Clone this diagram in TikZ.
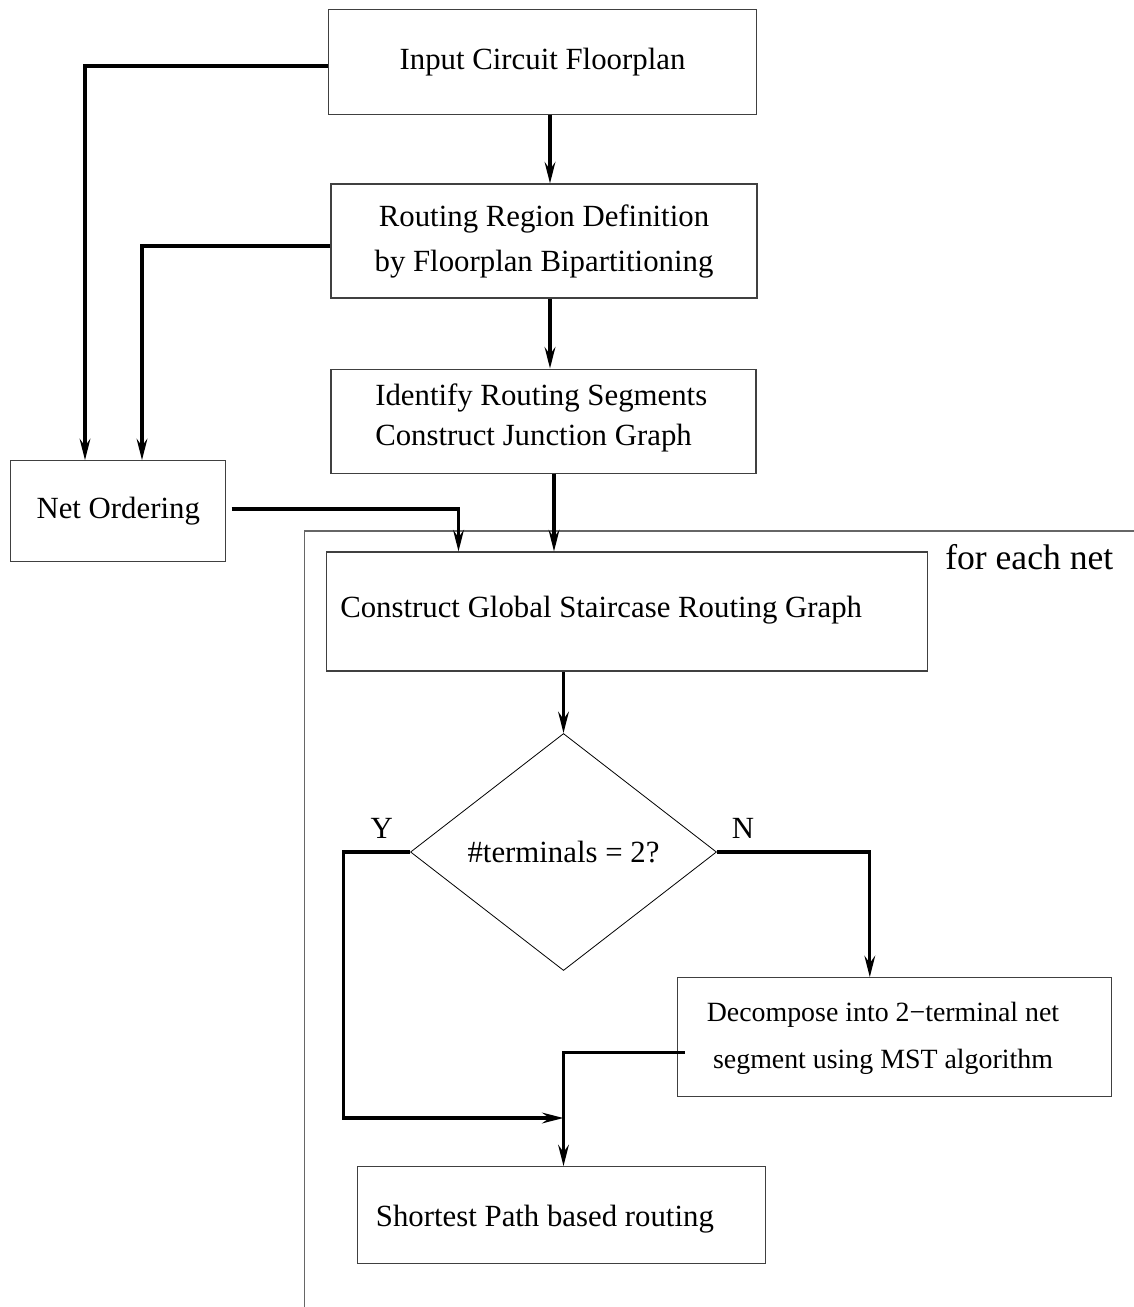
\documentclass[tikz,border=0pt]{standalone}
\usepackage{fontspec}
\setmainfont{Liberation Serif}
\usetikzlibrary{arrows.meta,shapes.geometric}

% text sizes used in the flow chart
\newcommand\flowtext{\fontsize{23.1}{30}\selectfont}
\newcommand\flowtextwide{\fontsize{23.1}{33.75}\selectfont}
\newcommand\flowsmall{\fontsize{20.9}{35}\selectfont}
\newcommand\flowlarge{\fontsize{26.7}{32}\selectfont}

\begin{document}
\begin{tikzpicture}[x=0.75pt,y=-0.75pt,
  box/.style={draw=black!75, line width=0.8pt, inner sep=0pt, font=\flowtext},
  boxtext/.style={inner sep=0pt, font=\flowtext, align=left},
  decision/.style={draw=black, line width=0.6pt, diamond, aspect=1.29, inner sep=0pt, font=\flowtext},
  flow/.style={line width=2.5pt, -{Stealth[length=16pt,width=8pt,inset=5.5pt]}},
  frame/.style={draw=black!60, line width=1.2pt},
  ]
\useasboundingbox (0,0) rectangle (1134,1307);

% process boxes
\node[box, minimum width=321pt, minimum height=78.75pt] (input) at (542.5,61.8) {Input Circuit Floorplan};
\node[box, minimum width=319.5pt, minimum height=85.5pt, align=center, font=\flowtextwide] (region) at (544,241)
  {Routing Region Definition\\by Floorplan Bipartitioning};
\node[box, minimum width=318.75pt, minimum height=78.2pt] (segments) at (543.5,421.2) {};
\node[boxtext, anchor=west] (segmentstext) at (375,418.3)
  {Identify Routing Segments\\Construct Junction Graph};
\node[box, minimum width=161.3pt, minimum height=75.75pt] (order) at (118.25,511.2) {Net Ordering};

% loop frame
\draw[frame] (1134,531) -- (304.5,531) -- (304.5,1307);
\node[font=\flowlarge, anchor=base west, inner sep=0pt] (loop) at (945,569) {for each net};

\node[box, minimum width=450.9pt, minimum height=89.25pt] (graph) at (627.1,611.5) {};
\node[boxtext, anchor=west] (graphtext) at (340,610) {Construct Global Staircase Routing Graph};
\node[decision, minimum width=229.5pt, minimum height=177.75pt] (check) at (563.5,852) {\#terminals = 2?};
\node[font=\flowtext, inner sep=0pt] (yes) at (381.7,828) {Y};
\node[font=\flowtext, inner sep=0pt] (no) at (743,828) {N};

\node[box, minimum width=325.65pt, minimum height=89.25pt] (decomp) at (894.5,1037.2) {};
\node[font=\flowsmall, align=center, inner sep=0pt] (decomptext) at (883,1038)
  {Decompose into 2\textminus terminal net\\segment using MST algorithm};
\node[box, minimum width=306pt, minimum height=72.45pt] (shortest) at (561.3,1215) {};
\node[boxtext, anchor=west] (shortesttext) at (375.7,1219) {Shortest Path based routing};

\coordinate (merge) at (563.5,1118);

% connectors
\draw[flow] (input.west |- 0,66) -- (85,66) -- (85,66 |- order.north);
\draw[flow] (region.west |- 0,246) -- (142,246) -- (142,246 |- order.north);
\draw[flow, shorten <=4pt] (order.east |- 0,509) -- (458.5,509) -- (458.5,509 |- graph.north);

\draw[flow] (input.south -| 550,0) -- (region.north -| 550,0);
\draw[flow] (region.south -| 550,0) -- (segments.north -| 550,0);
\draw[flow] (segments.south -| 554,0) -- (graph.north -| 554,0);
\draw[flow] (graph.south -| check.north) -- (check.north);

\draw[flow] (check.west) -- (343.8,0 |- check.west) -- (343.8,1118) -- (merge);
\draw[flow] (check.east) -- (869.8,0 |- check.east) -- (869.8,0 |- decomp.north);
\draw[flow, shorten <=-6pt] (decomp.west |- 0,1052.3) -- (merge |- 0,1052.3) -- (merge |- shortest.north);
\end{tikzpicture}
\end{document}
